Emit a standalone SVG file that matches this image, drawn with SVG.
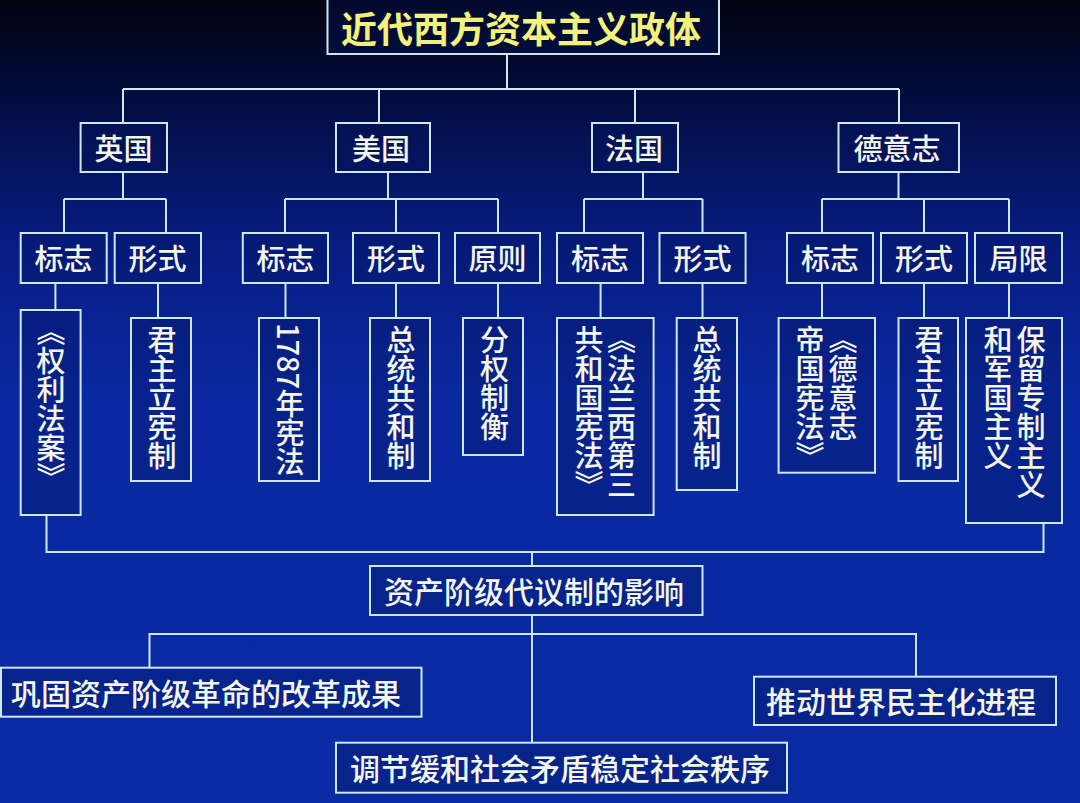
<svg xmlns="http://www.w3.org/2000/svg" width="1080" height="803" viewBox="0 0 1080 803">
<defs>
<linearGradient id="bg" x1="0" y1="0" x2="0" y2="1">
<stop offset="0" stop-color="#01030f"/>
<stop offset="0.12" stop-color="#030c3e"/>
<stop offset="0.3" stop-color="#071c82"/>
<stop offset="0.5" stop-color="#0a29a2"/>
<stop offset="1" stop-color="#0a2ba4"/>
</linearGradient>
<style>
.box{fill:#041660;fill-opacity:0.35;stroke:#cde8f2;stroke-width:2}
.ln{fill:none;stroke:#cde8f2;stroke-width:2}
.t{font-family:"Noto Sans CJK SC","Liberation Sans",sans-serif;font-size:29px;fill:#f4f6e8;font-weight:500;text-anchor:middle;dominant-baseline:central}
.b{font-size:30px}
.v{font-family:"Noto Sans CJK SC","Liberation Sans",sans-serif;font-size:29px;fill:#f4f6e8;font-weight:500;writing-mode:vertical-rl}
.title{font-family:"Noto Sans CJK SC","Liberation Sans",sans-serif;font-size:36px;fill:#f2f27a;font-weight:700;text-anchor:middle;dominant-baseline:central}
</style>
</defs>
<rect x="0" y="0" width="1080" height="803" fill="url(#bg)"/>
<g id="connectors">
<path class="ln" d="M507,54V89M123,89H899M123,89V123M379,89V123M635,89V123M899,89V123"/>
<path class="ln" d="M123,172V199M64,199H166M64,199V233M166,199V233"/>
<path class="ln" d="M388,172V199M285,199H498M285,199V233M396,199V233M498,199V233"/>
<path class="ln" d="M643,172V199M584,199H702.5M584,199V233M702.5,199V233"/>
<path class="ln" d="M898.5,172V199M822,199H1009M822,199V233M924,199V233M1009,199V233"/>
<path class="ln" d="M55.4,283V310M158,283V318M285.5,283V318M396,283V318M498,283V318M600.6,283V318M702.5,283V318M822,283V318M924,283V318M1009,283V318"/>
<path class="ln" d="M46.5,515V552H1043.5V523M532,552V566"/>
<path class="ln" d="M532,615V742.7M149.5,667.7V634H916V676.7"/>
</g>
<g id="title"><rect class="box" x="327.5" y="-2" width="391.5" height="56"/><text class="title" x="521" y="27">近代西方资本主义政体</text></g>
<g id="uk"><rect class="box" x="80.6" y="123" width="86.4" height="49"/><text class="t" x="123.5" y="147">英国</text></g>
<g id="us"><rect class="box" x="336" y="123" width="94" height="49"/><text class="t" x="381" y="147">美国</text></g>
<g id="fr"><rect class="box" x="592" y="123" width="86" height="49"/><text class="t" x="634" y="147">法国</text></g>
<g id="de"><rect class="box" x="838.5" y="123" width="120.5" height="49"/><text class="t" x="897" y="147">德意志</text></g>

<g id="uk-sign"><rect class="box" x="20.7" y="233" width="86" height="50"/><text class="t" x="63.5" y="257">标志</text></g>
<g id="uk-form"><rect class="box" x="114.7" y="233" width="86.3" height="50"/><text class="t" x="157.5" y="257">形式</text></g>
<g id="us-sign"><rect class="box" x="242.8" y="233" width="85.2" height="50"/><text class="t" x="285.5" y="257">标志</text></g>
<g id="us-form"><rect class="box" x="353" y="233" width="86" height="50"/><text class="t" x="396" y="257">形式</text></g>
<g id="us-principle"><rect class="box" x="455" y="233" width="85" height="50"/><text class="t" x="497.5" y="257">原则</text></g>
<g id="fr-sign"><rect class="box" x="557" y="233" width="86" height="50"/><text class="t" x="600" y="257">标志</text></g>
<g id="fr-form"><rect class="box" x="659.5" y="233" width="86.1" height="50"/><text class="t" x="702.5" y="257">形式</text></g>
<g id="de-sign"><rect class="box" x="787" y="233" width="86" height="50"/><text class="t" x="830" y="257">标志</text></g>
<g id="de-form"><rect class="box" x="881" y="233" width="86" height="50"/><text class="t" x="924" y="257">形式</text></g>
<g id="de-limit"><rect class="box" x="975" y="233" width="87" height="50"/><text class="t" x="1018.5" y="257">局限</text></g>

<g id="uk-bill"><rect class="box" x="20.7" y="310" width="59.9" height="205"/><text class="v" x="51" y="317">《权利法案》</text></g>
<g id="uk-monarchy"><rect class="box" x="131" y="318" width="60" height="163"/><text class="v" x="162" y="325">君主立宪制</text></g>
<g id="us-1787"><rect class="box" x="259" y="318" width="60" height="163"/><text class="v" x="290" y="323">1787年宪法</text></g>
<g id="us-republic"><rect class="box" x="370" y="318" width="60" height="163"/><text class="v" x="401" y="325">总统共和制</text></g>
<g id="us-checks"><rect class="box" x="463" y="318" width="60" height="137"/><text class="v" x="494.5" y="325">分权制衡</text></g>
<g id="fr-constitution"><rect class="box" x="557" y="318" width="96.6" height="197"/><text class="v" x="621.5" y="325">《法兰西第三</text><text class="v" x="589" y="325">共和国宪法》</text></g>
<g id="fr-republic"><rect class="box" x="676.7" y="318" width="60.3" height="172"/><text class="v" x="707" y="325">总统共和制</text></g>
<g id="de-constitution"><rect class="box" x="778.6" y="318" width="96.4" height="154.7"/><text class="v" x="843" y="325">《德意志</text><text class="v" x="810" y="325">帝国宪法》</text></g>
<g id="de-monarchy"><rect class="box" x="898.5" y="318" width="59.5" height="163"/><text class="v" x="929" y="325">君主立宪制</text></g>
<g id="de-limit-text"><rect class="box" x="966" y="318" width="96" height="205"/><text class="v" x="1031" y="325">保留专制主义</text><text class="v" x="998" y="325">和军国主义</text></g>

<g id="influence"><rect class="box" x="370" y="566" width="332.5" height="49"/><text class="t b" x="534" y="590">资产阶级代议制的影响</text></g>
<g id="consolidate"><rect class="box" x="1" y="667.7" width="420.5" height="49"/><text class="t b" x="206" y="692">巩固资产阶级革命的改革成果</text></g>
<g id="promote"><rect class="box" x="754" y="676.7" width="302" height="48.3"/><text class="t b" x="901" y="700">推动世界民主化进程</text></g>
<g id="regulate"><rect class="box" x="336" y="742.7" width="451" height="50"/><text class="t b" x="560" y="767">调节缓和社会矛盾稳定社会秩序</text></g>
</svg>
